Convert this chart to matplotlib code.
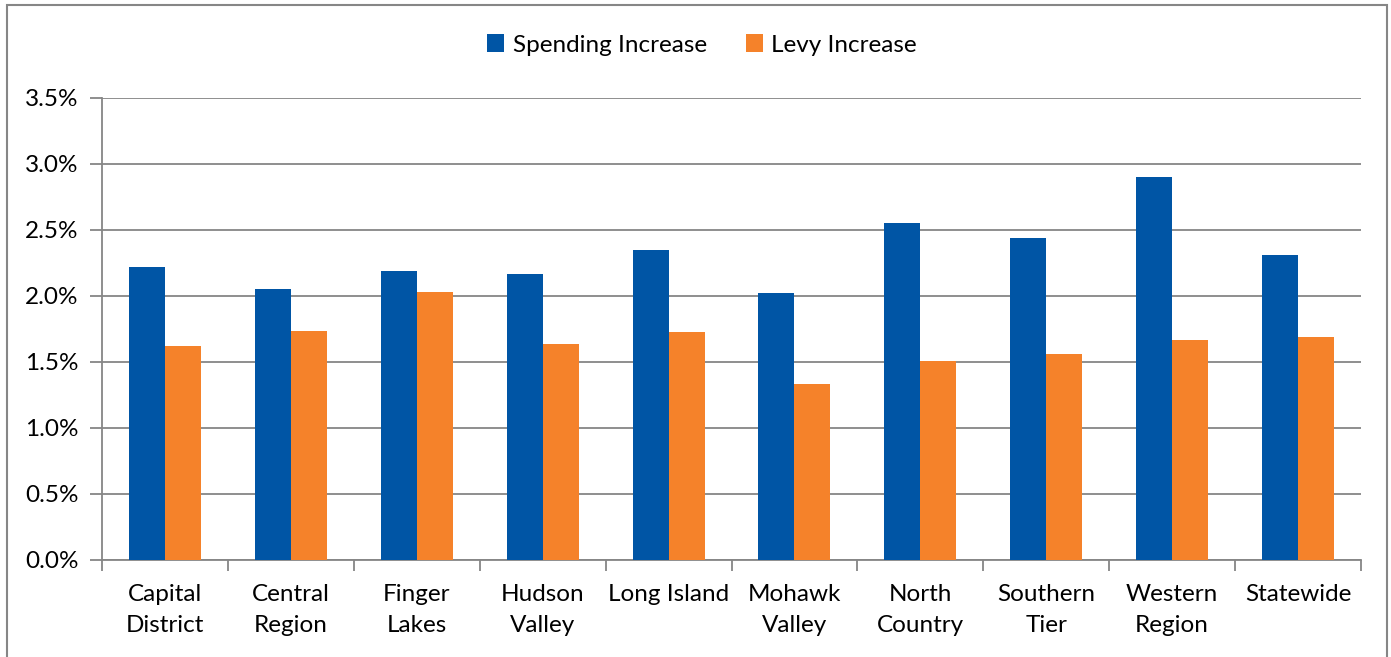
import matplotlib
matplotlib.use("Agg")
import matplotlib.pyplot as plt
from matplotlib.patches import Rectangle
from matplotlib.ticker import FuncFormatter, MultipleLocator
import numpy as np

categories = ["Capital\nDistrict", "Central\nRegion", "Finger\nLakes", "Hudson\nValley",
              "Long Island", "Mohawk\nValley", "North\nCountry", "Southern\nTier",
              "Western\nRegion", "Statewide"]
spending = [2.22, 2.05, 2.19, 2.17, 2.35, 2.02, 2.55, 2.44, 2.90, 2.31]
levy = [1.62, 1.735, 2.03, 1.64, 1.73, 1.33, 1.51, 1.56, 1.67, 1.69]
series_names = ["Spending Increase", "Levy Increase"]
colors = ["#0055A5", "#F5822A"]

plt.rcParams['font.family'] = ['Lato', 'DejaVu Sans']
W, H = 1391, 657
fig = plt.figure(figsize=(W/100, H/100), dpi=100)
ax = fig.add_axes([102/W, 1-560/H, (1361-102)/W, (560-98)/H])

x = np.arange(len(categories))
bw = 36/126
ax.bar(x - bw/2, spending, bw, color=colors[0], label=series_names[0], zorder=3)
ax.bar(x + bw/2, levy, bw, color=colors[1], label=series_names[1], zorder=3)

ax.set_xlim(-0.5, len(categories) - 0.5)
ax.set_ylim(0, 3.5)
ax.yaxis.set_major_locator(MultipleLocator(0.5))
ax.yaxis.set_major_formatter(FuncFormatter(lambda v, p: f"{v:.1f}%"))
ax.grid(axis='y', color='#868686', linewidth=1.3, zorder=0)
for s in ['top', 'right']:
    ax.spines[s].set_visible(False)
for s in ['left', 'bottom']:
    ax.spines[s].set_color('#868686')
    ax.spines[s].set_linewidth(1.3)
ax.set_xticks(x)
ax.set_xticklabels(categories, fontsize=17.5, linespacing=1.6)
ax.set_xticks(np.arange(len(categories) + 1) - 0.5, minor=True)
ax.tick_params(axis='x', which='major', length=0, pad=17)
ax.tick_params(axis='x', which='minor', length=8, color='#868686', width=1.3)
ax.tick_params(axis='y', length=9, color='#868686', width=1.3, labelsize=17.5, pad=8)

leg = fig.legend(loc='center', bbox_to_anchor=(702/W, 1-45/H), ncol=2, frameon=False,
                 fontsize=17.5, handlelength=0.7, handleheight=0.7, handletextpad=0.35,
                 columnspacing=1.6)

fig.patches.append(Rectangle((7/W, -0.05), (1387-7)/W, 1.05 - 4.5/H, transform=fig.transFigure,
                             fill=False, edgecolor='#868686', linewidth=1.5))
fig.savefig("out.png", dpi=100)
